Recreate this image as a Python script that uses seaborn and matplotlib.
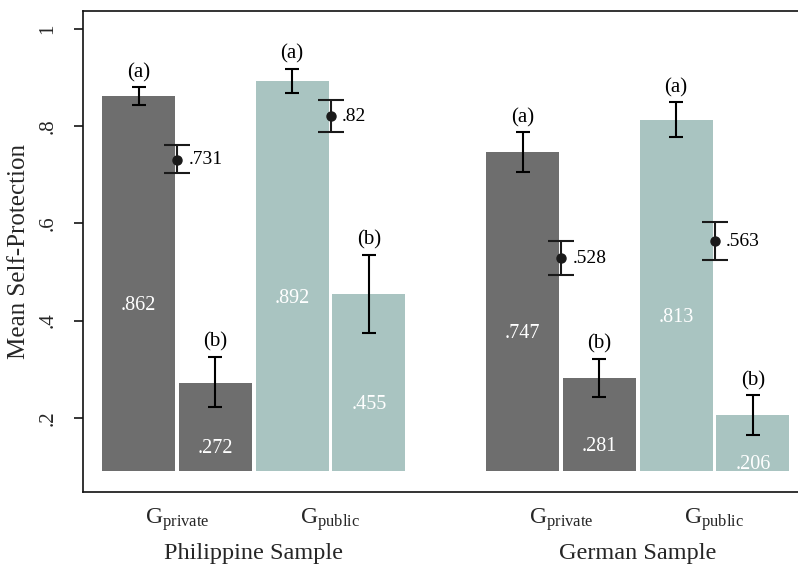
import numpy as np
import pandas as pd
import matplotlib
matplotlib.use("Agg")
import matplotlib.pyplot as plt
import seaborn as sns

# data
samples = ["Philippine Sample", "German Sample"]
games = ["private", "public"]
# per bar: sample x game x (a/b)
bar_values = [0.862, 0.272, 0.892, 0.455, 0.747, 0.281, 0.813, 0.206]
bar_ci_lo = [0.843, 0.223, 0.868, 0.375, 0.705, 0.243, 0.777, 0.165]
bar_ci_hi = [0.880, 0.326, 0.918, 0.536, 0.788, 0.322, 0.849, 0.247]
bar_letters = ["(a)", "(b)", "(a)", "(b)", "(a)", "(b)", "(a)", "(b)"]
# overall mean per sample x game
point_values = [0.731, 0.82, 0.528, 0.563]
point_ci_lo = [0.703, 0.788, 0.493, 0.524]
point_ci_hi = [0.761, 0.854, 0.563, 0.602]

DARK = "#6e6e6e"
TEAL = "#a9c4c1"
BASE = 0.09

sns.set_theme(style="white")
plt.rcParams["font.family"] = ["Liberation Serif", "DejaVu Serif"]
plt.rcParams["mathtext.fontset"] = "custom"
plt.rcParams["mathtext.rm"] = "Liberation Serif"
plt.rcParams["mathtext.it"] = "Liberation Serif:italic"

rows = []
k = 0
for i, s in enumerate(samples):
    for j, g in enumerate(games):
        for b in range(2):
            rows.append(dict(sample=s, game=g, pos=i * 5 + j * 2 + b,
                             value=bar_values[k], lo=bar_ci_lo[k], hi=bar_ci_hi[k],
                             letter=bar_letters[k]))
            k += 1
df = pd.DataFrame(rows)
df["height"] = df["value"] - BASE

pts = pd.DataFrame(dict(
    pos=[i * 5 + j * 2 + 0.5 for i in range(2) for j in range(2)],
    game=[g for _ in samples for g in games],
    value=point_values, lo=point_ci_lo, hi=point_ci_hi))

fig = plt.figure(figsize=(7.98, 5.66), dpi=100)
ax = fig.add_axes([83 / 798, 1 - 492 / 566, 715 / 798, 481 / 566])

sns.barplot(data=df, x="pos", y="height", hue="game", native_scale=True,
            palette={"private": DARK, "public": TEAL}, width=0.95, bottom=BASE,
            saturation=1, linewidth=0, errorbar=None, legend=False, ax=ax)

ax.errorbar(df["pos"], df["value"], yerr=[df["value"] - df["lo"], df["hi"] - df["value"]],
            fmt="none", ecolor="black", elinewidth=1.5, capsize=5, capthick=1.5, zorder=3)
ax.errorbar(pts["pos"], pts["value"], yerr=[pts["value"] - pts["lo"], pts["hi"] - pts["value"]],
            fmt="o", color="#1a1a1a", markersize=6.5, elinewidth=1.5, capsize=9.5,
            capthick=1.5, zorder=3)

for _, r in df.iterrows():
    ax.text(r["pos"], r["hi"] + 0.01, r["letter"], ha="center", va="bottom",
            fontsize=15, color="black")
    ax.text(r["pos"], r["value"] / 2, f"{r['value']:g}".lstrip("0"), ha="center",
            va="center", fontsize=14.5, color="white")
for _, r in pts.iterrows():
    ax.text(r["pos"] + 0.15, r["value"], f"{r['value']:g}".lstrip("0"), ha="left",
            va="center", fontsize=14, color="black")

ax.set_xlim(-0.723, 8.587)
ax.set_ylim(0.0474, 1.037)

ax.set_yticks([0.2, 0.4, 0.6, 0.8, 1.0])
ax.set_yticklabels([".2", ".4", ".6", ".8", "1"], rotation=90, va="center")
ax.set_xticks(pts["pos"])
ax.set_xticklabels([r"$\mathrm{G}_{\mathrm{%s}}$" % g for g in pts["game"]])
ax.tick_params(axis="y", length=6.5, width=1.1, pad=12, labelsize=15, left=True,
               color="black")
ax.tick_params(axis="x", length=0, pad=10, labelsize=17)
ax.set_xlabel("")
ax.set_ylabel("Mean Self-Protection", fontsize=18, labelpad=6)

for i, s in enumerate(samples):
    ax.text(i * 5 + 1.5, -0.127, s, transform=ax.get_xaxis_transform(),
            ha="center", va="center", fontsize=17.5)

for side in ["left", "top", "bottom"]:
    ax.spines[side].set_color("#111111")
    ax.spines[side].set_linewidth(1.2)
ax.spines["right"].set_visible(False)

fig.savefig("out.png", dpi=100)
